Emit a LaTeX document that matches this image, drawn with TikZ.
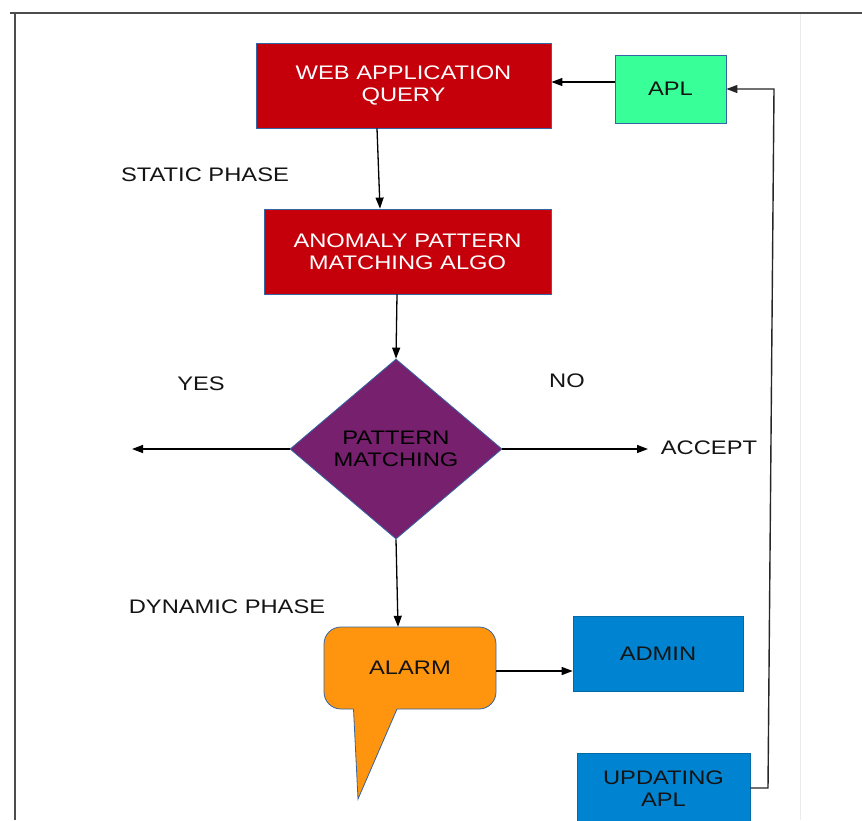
\documentclass[tikz,border=0pt]{standalone}
\usepackage{fontspec}
\setmainfont[FakeStretch=1.21]{Liberation Sans}
\usetikzlibrary{arrows.meta,shapes.geometric}

\definecolor{boxred}{HTML}{C5000B}
\definecolor{aplgreen}{HTML}{38FF97}
\definecolor{dpurple}{HTML}{77206E}
\definecolor{alarmorange}{HTML}{FF950E}
\definecolor{boxblue}{HTML}{0083D0}
\definecolor{edgeblue}{HTML}{3465A4}
\definecolor{ink}{HTML}{141414}

\tikzset{
  txt/.style={font=\fontsize{19.6}{22}\selectfont, align=center, text=ink},
  redbox/.style={txt, rectangle, fill=boxred, draw=edgeblue, line width=0.8pt, text=white, inner sep=0pt},
  greenbox/.style={txt, rectangle, fill=aplgreen, draw=edgeblue, line width=0.8pt, inner sep=0pt},
  bluebox/.style={txt, rectangle, fill=boxblue, draw=boxblue!80!black, line width=0.6pt, inner sep=0pt},
  decision/.style={txt, diamond, fill=dpurple, draw=edgeblue, line width=0.8pt, inner sep=0pt, aspect=1.18, text=black},
  lbl/.style={txt},
  arr/.style={draw=black, line width=1.3pt, -{Triangle[length=11pt,width=8pt]}},
  frameline/.style={draw=black!70, line width=1.6pt}
}

\begin{document}
\begin{tikzpicture}[x=1pt,y=-1pt]
  \useasboundingbox (0,0) rectangle (862,820);
  \clip (0,0) rectangle (862,820);
  \fill[white] (0,0) rectangle (862,820);

  % page frame
  \draw[frameline] (10,13) -- (862,13);
  \draw[frameline] (15,13) -- (15,820);
  \draw[black!8, line width=0.8pt] (800,14) -- (800,820);

  % boxes of the static phase
  \node[redbox, minimum width=295pt, minimum height=85pt] (waq) at (403.5,85.5) {WEB APPLICATION\\QUERY};
  \node[greenbox, minimum width=111pt, minimum height=68pt] (apl) at (670.5,89) {APL};
  \node[redbox, minimum width=287pt, minimum height=85pt] (ano) at (407.5,251.5) {ANOMALY PATTERN\\MATCHING ALGO};

  % decision
  \node[decision, minimum width=212pt, minimum height=180pt] (pm) at (396,449) {PATTERN\\MATCHING};

  % labels
  \node[lbl] (static) at (205,175) {STATIC PHASE};
  \node[lbl] (yes) at (201,384) {YES};
  \node[lbl] (no) at (567,381) {NO};
  \node[lbl] (accept) at (709,448) {ACCEPT};
  \node[lbl] (dyn) at (227,607) {DYNAMIC PHASE};

  % alarm callout
  \draw[fill=alarmorange, draw=edgeblue, line width=0.8pt, rounded corners=17pt]
    (324,668) -- (324,627) -- (496,627) -- (496,709) -- (324,709) -- cycle;
  \fill[alarmorange] (353.5,703) -- (397.5,703) -- (397,709.4) -- (358,799) -- (353.5,709.4) -- cycle;
  \draw[edgeblue, line width=0.8pt] (353.5,709) -- (358,799) -- (397,709);
  \node[txt, minimum width=172pt, minimum height=82pt, inner sep=0pt] (alarm) at (410,668) {ALARM};

  % admin side
  \node[bluebox, minimum width=170pt, minimum height=75pt] (admin) at (658,653.5) {ADMIN};
  \node[bluebox, minimum width=173pt, minimum height=70pt, anchor=north] (upd) at (663.5,753) {UPDATING\\APL};

  % connectors
  \draw[arr] (apl.west |- 0,82) -- (waq.east |- 0,82);
  \draw[arr] ([xshift=-26.5pt]waq.south) -- ([xshift=-27.5pt]ano.north);
  \draw[arr] ([xshift=-10.5pt]ano.south) -- (pm.north);
  \draw[arr] (pm.west) -- (132,449);
  \draw[arr] (pm.east) -- (648,449);
  \draw[arr] (pm.south) -- ([xshift=-12pt]alarm.north);
  \draw[arr] (alarm.east |- 0,671) -- (admin.west |- 0,671);

  \coordinate (bendlow) at (768,788);
  \coordinate (bendhigh) at (774,89);
  \draw[draw=black!85, line width=1.4pt, -{Triangle[length=11pt,width=8pt]}]
    (upd.east |- bendlow) -- (bendlow) -- (bendhigh) -- (apl.east |- bendhigh);
\end{tikzpicture}
\end{document}
